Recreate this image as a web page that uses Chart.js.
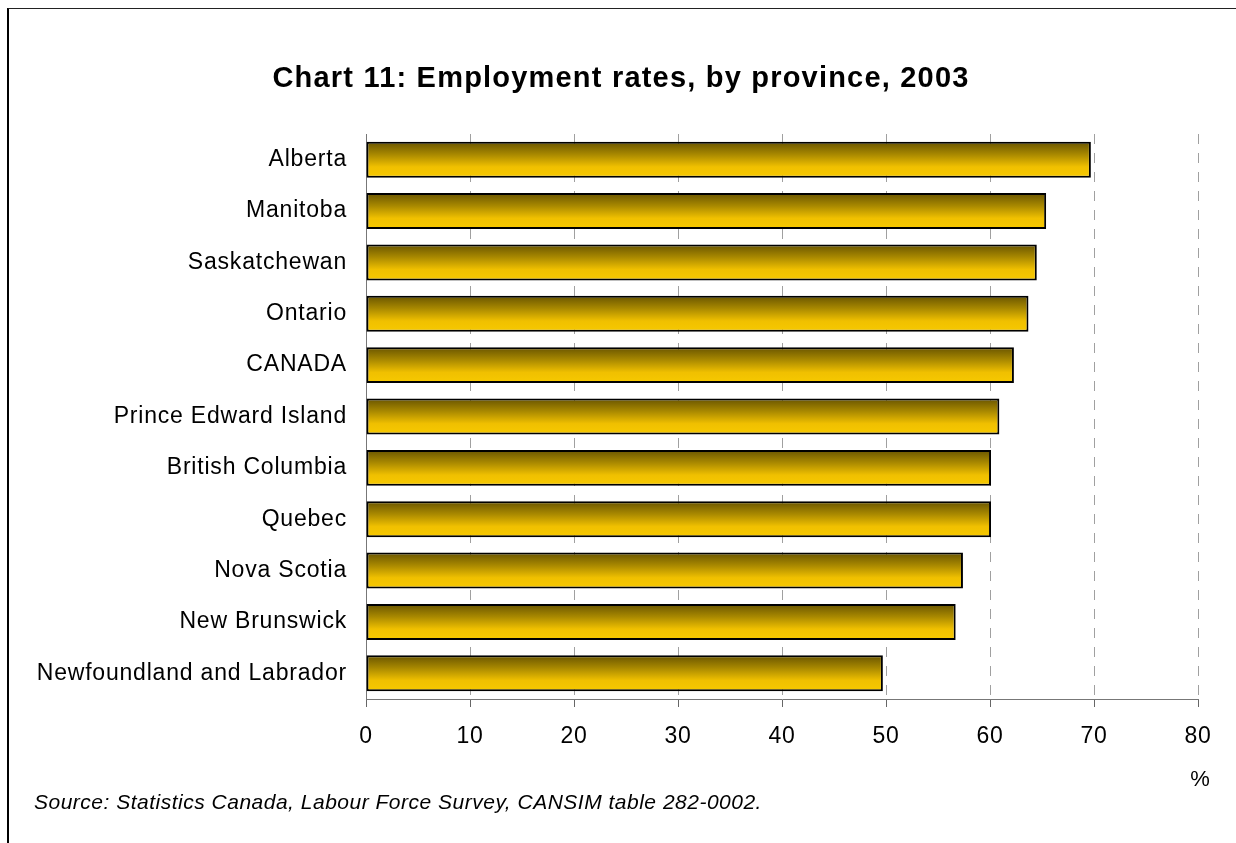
<!DOCTYPE html>
<html>
<head>
<meta charset="utf-8">
<title>Chart 11: Employment rates, by province, 2003</title>
<script src="https://cdn.jsdelivr.net/npm/chart.js@4/dist/chart.umd.min.js"></script>
<style>
  html, body { margin: 0; padding: 0; background: #fff; }
  #wrap { position: relative; width: 1236px; height: 843px; overflow: hidden; }
  #frame { position: absolute; left: 7px; top: 8px; right: -5px; bottom: -5px;
           border-left: 2px solid #000; border-top: 1px solid #222; pointer-events: none; }
  canvas { position: absolute; left: 0; top: 0; }
</style>
</head>
<body>
<div id="wrap">
  <canvas id="chart" width="1236" height="843"></canvas>
  <div id="frame"></div>
</div>
<script>
const provinces = [
  "Alberta", "Manitoba", "Saskatchewan", "Ontario", "CANADA",
  "Prince Edward Island", "British Columbia", "Quebec", "Nova Scotia",
  "New Brunswick", "Newfoundland and Labrador"
];
const rates = [69.7, 65.4, 64.5, 63.7, 62.3, 60.9, 60.1, 60.1, 57.4, 56.7, 49.7];
const xTicks = [0, 10, 20, 30, 40, 50, 60, 70, 80];

const chartTitle = "Chart 11: Employment rates, by province, 2003";
const sourceNote = "Source: Statistics Canada, Labour Force Survey, CANSIM table 282-0002.";
const unitLabel = "%";

const FONT = "'Liberation Sans', Arial, sans-serif";
const barPct = 0.7;

// gradient per bar: dark olive on top fading to yellow
function barGradient(context) {
  const chart = context.chart;
  const y = chart.scales.y;
  if (!y || context.dataIndex === undefined) return "#f0c000";
  const c = y.getPixelForValue(context.dataIndex);
  const half = (y.height / provinces.length) * barPct / 2;
  if (!isFinite(c) || !isFinite(half) || half <= 0) return "#f0c000";
  const g = chart.ctx.createLinearGradient(0, c - half, 0, c + half);
  g.addColorStop(0, "#685400");
  g.addColorStop(0.35, "#a88800");
  g.addColorStop(0.7, "#f0c000");
  g.addColorStop(1, "#f7c900");
  return g;
}

// the reference text runs a little wide
const spacingPlugin = {
  id: "spacingPlugin",
  beforeDraw(chart) { chart.ctx.letterSpacing = "0.8px"; }
};

// title, unit and source note
const textPlugin = {
  id: "textPlugin",
  afterDraw(chart) {
    const { ctx } = chart;
    ctx.save();
    ctx.fillStyle = "#000";
    ctx.textBaseline = "middle";
    ctx.textAlign = "center";
    ctx.letterSpacing = "1.2px";
    ctx.font = "bold 29px " + FONT;
    ctx.fillText(chartTitle, 621, 79);
    ctx.letterSpacing = "0px";
    ctx.font = "22px " + FONT;
    ctx.fillText(unitLabel, 1200, 780);
    ctx.textAlign = "left";
    ctx.letterSpacing = "0.5px";
    ctx.font = "italic 21px " + FONT;
    ctx.fillText(sourceNote, 34, 803);
    ctx.restore();
  }
};

new Chart(document.getElementById("chart").getContext("2d"), {
  type: "bar",
  data: {
    labels: provinces,
    datasets: [{
      data: rates,
      backgroundColor: barGradient,
      borderColor: "#000",
      borderWidth: 2,
      borderSkipped: false,
      categoryPercentage: barPct,
      barPercentage: 1.0
    }]
  },
  options: {
    indexAxis: "y",
    responsive: false,
    animation: false,
    layout: { padding: { top: 134, right: 38, bottom: 0, left: 0 } },
    plugins: {
      legend: { display: false },
      tooltip: { enabled: false }
    },
    scales: {
      x: {
        min: 0,
        max: 80,
        afterBuildTicks: axis => { axis.ticks = xTicks.map(v => ({ value: v })); },
        afterFit: axis => { axis.height = 144; },
        grid: {
          color: "#a0a0a0",
          lineWidth: 1,
          tickLength: 8,
          tickColor: "#666",
          tickBorderDash: []
        },
        border: { display: true, color: "#777", width: 1, dash: [10, 9] },
        ticks: {
          color: "#000",
          padding: 16,
          font: { family: FONT, size: 23 }
        }
      },
      y: {
        afterFit: axis => { axis.width = 366; },
        grid: { display: false },
        border: { display: true, color: "#777", width: 1 },
        ticks: {
          color: "#000",
          padding: 11,
          font: { family: FONT, size: 23 }
        }
      }
    }
  },
  plugins: [spacingPlugin, textPlugin]
});
</script>
</body>
</html>
